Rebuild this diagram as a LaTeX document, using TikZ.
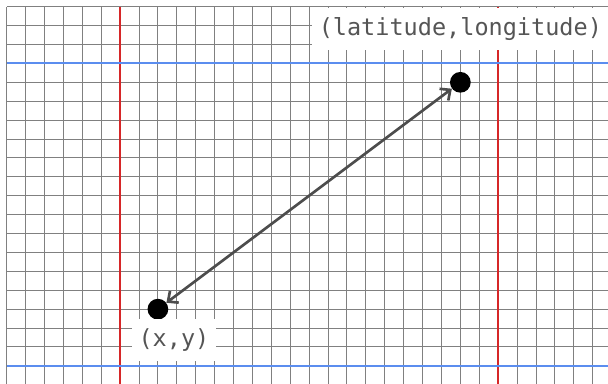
\documentclass[tikz,border=0pt]{standalone}
\usepackage{fontspec}
\setmonofont{DejaVu Sans Mono}
\usetikzlibrary{arrows.meta,positioning}
\definecolor{gridgray}{HTML}{808080}
\definecolor{marginred}{HTML}{D62728}
\definecolor{ruleblue}{HTML}{5B8DEF}
\definecolor{arrowgray}{HTML}{4D4D4D}
\definecolor{labelgray}{HTML}{555555}
\tikzset{
  gridline/.style={draw=gridgray, line width=0.7pt, step=0.5cm},
  margin/.style={draw=marginred, line width=1.5pt},
  rule/.style={draw=ruleblue, line width=1.5pt},
  dot/.style={
    circle,
    fill=black,
    minimum size=15.6pt,
    inner sep=0pt
  },
  coordlabel/.style={
    fill=white,
    text=labelgray,
    minimum height=31.6pt,
    inner xsep=5pt,
    inner ysep=0pt,
    font=\ttfamily\fontsize{17.7}{20}\selectfont
  },
  link/.style={{Straight Barb[length=6pt,width=11pt]}-{Straight Barb[length=6pt,width=11pt]},
    draw=arrowgray, line width=2pt}
}

\begin{document}
\begin{tikzpicture}[x=0.5cm, y=-0.5cm]

  \useasboundingbox (-0.354,-0.354) rectangle (31.81,19.91);
  \clip (-0.354,-0.354) rectangle (31.81,19.91);

  % paper
  \draw[gridline] (0,0) grid (33,21);
  \draw[margin] (6,0) -- (6,21);
  \draw[margin] (26,0) -- (26,21);
  \draw[rule] (0,3) -- (33,3);
  \draw[rule] (0,19) -- (33,19);

  % points
  \node[dot] (local) at (8,16) {};
  \node[dot] (geo) at (24,4) {};
  \draw[link] (local) -- (geo);

  \node[coordlabel] (geolabel) at (24,1.18) {(latitude,longitude)};
  \node[coordlabel] (locallabel) at (8.85,17.63) {(x,y)};

\end{tikzpicture}
\end{document}
